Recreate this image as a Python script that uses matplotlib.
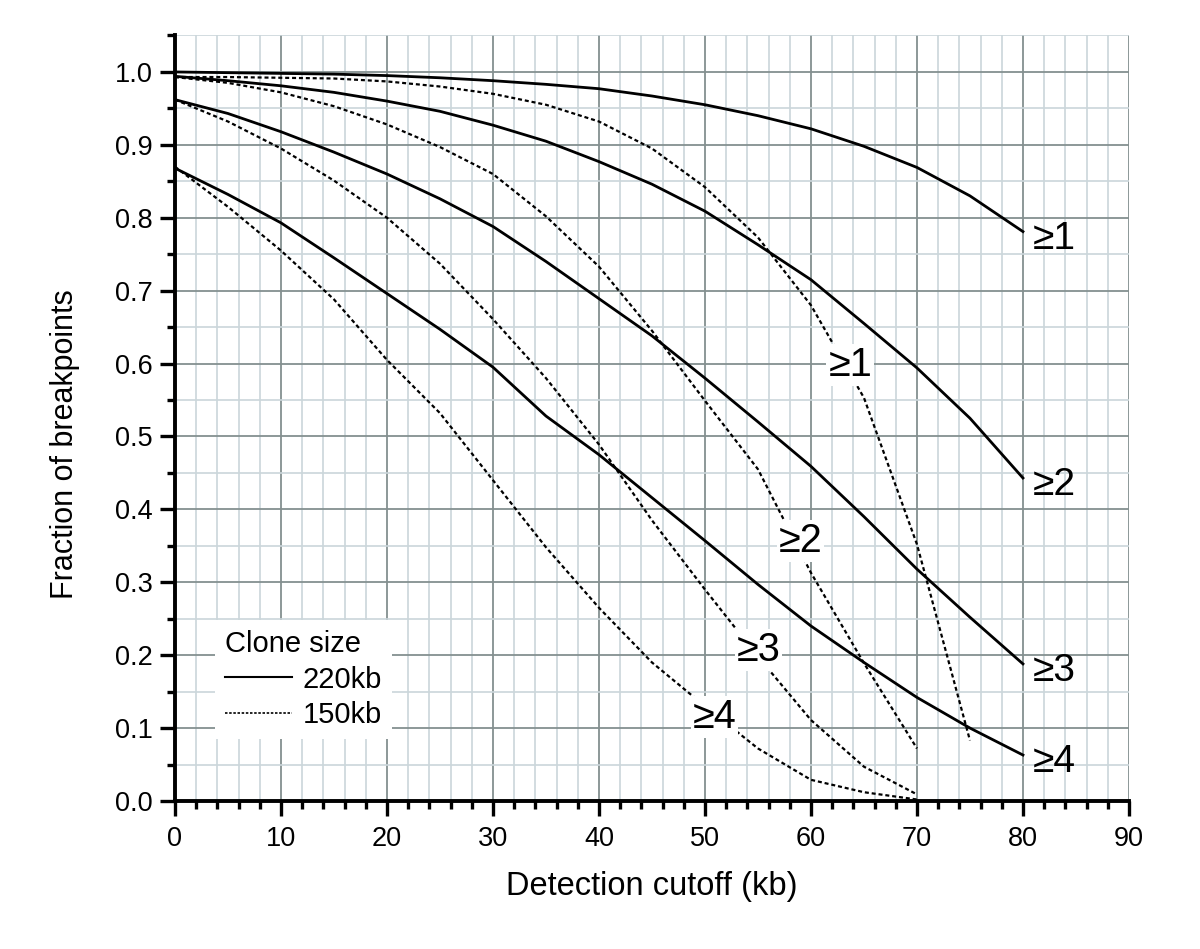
import matplotlib
matplotlib.use("Agg")
import matplotlib.pyplot as plt
from matplotlib.ticker import MultipleLocator, FormatStrFormatter
from matplotlib.lines import Line2D

plt.rcParams['font.family'] = ['Liberation Sans', 'DejaVu Sans']

# Detection cutoff (kb)
x220 = [0, 5, 10, 15, 20, 25, 30, 35, 40, 45, 50, 55, 60, 65, 70, 75, 80]
x150_1 = [0, 5, 10, 15, 20, 25, 30, 35, 40, 45, 50, 55, 60, 65, 70, 75]
x150 = [0, 5, 10, 15, 20, 25, 30, 35, 40, 45, 50, 55, 60, 65, 70]

# 220kb clone size (solid)
c220_ge1 = [1.0, 0.999, 0.998, 0.997, 0.995, 0.992, 0.988, 0.983, 0.977, 0.967, 0.955,
            0.940, 0.922, 0.898, 0.869, 0.830, 0.781]
c220_ge2 = [0.994, 0.988, 0.981, 0.972, 0.960, 0.946, 0.927, 0.905, 0.877, 0.846, 0.809,
            0.763, 0.715, 0.655, 0.594, 0.525, 0.443]
c220_ge3 = [0.962, 0.943, 0.918, 0.890, 0.860, 0.826, 0.788, 0.740, 0.689, 0.638, 0.580,
            0.520, 0.459, 0.390, 0.318, 0.252, 0.188]
c220_ge4 = [0.868, 0.832, 0.793, 0.745, 0.696, 0.647, 0.595, 0.528, 0.475, 0.416, 0.357,
            0.297, 0.240, 0.190, 0.142, 0.100, 0.063]

# 150kb clone size (dotted)
c150_ge1 = [0.993, 0.993, 0.992, 0.991, 0.987, 0.980, 0.970, 0.955, 0.932, 0.895, 0.842,
            0.773, 0.680, 0.553, 0.352, 0.083]
c150_ge2 = [0.993, 0.985, 0.972, 0.953, 0.928, 0.897, 0.860, 0.802, 0.733, 0.645, 0.549,
            0.455, 0.313, 0.189, 0.072]
c150_ge3 = [0.962, 0.932, 0.895, 0.851, 0.800, 0.737, 0.661, 0.580, 0.489, 0.385, 0.290,
            0.198, 0.111, 0.047, 0.009]
c150_ge4 = [0.870, 0.815, 0.755, 0.688, 0.605, 0.532, 0.440, 0.348, 0.265, 0.190, 0.130,
            0.072, 0.029, 0.012, 0.002]

labels_220 = ["≥1", "≥2", "≥3", "≥4"]
labels_150 = ["≥1", "≥2", "≥3", "≥4"]
legend_title = "Clone size"
legend_labels = ["220kb", "150kb"]

fig = plt.figure(figsize=(12, 9.49), dpi=100)
ax = fig.add_axes([0.1458, 0.156, 0.795, 0.8066])

major_c = '#849090'
minor_c = '#cbd6da'
ax.xaxis.set_major_locator(MultipleLocator(10))
ax.xaxis.set_minor_locator(MultipleLocator(2))
ax.yaxis.set_major_locator(MultipleLocator(0.1))
ax.yaxis.set_minor_locator(MultipleLocator(0.05))
ax.yaxis.set_major_formatter(FormatStrFormatter('%.1f'))
ax.grid(which='minor', color=minor_c, lw=1.2)
ax.grid(which='major', color=major_c, lw=1.3)
ax.set_axisbelow(True)

solid_kw = dict(color='black', lw=2.0, solid_joinstyle='miter', zorder=3)
dot_kw = dict(color='black', lw=1.6, linestyle=(0, (1.8, 1.3)), zorder=3)

ax.plot(x220, c220_ge1, **solid_kw)
ax.plot(x220, c220_ge2, **solid_kw)
ax.plot(x220, c220_ge3, **solid_kw)
ax.plot(x220, c220_ge4, **solid_kw)
ax.plot(x150_1, c150_ge1, **dot_kw)
ax.plot(x150, c150_ge2, **dot_kw)
ax.plot(x150, c150_ge3, **dot_kw)
ax.plot(x150, c150_ge4, **dot_kw)

box = dict(facecolor='white', edgecolor='none', pad=1.5)
# labels for 220kb curves at right end
for lab, yv in zip(labels_220, [c220_ge1[-1], c220_ge2[-1], c220_ge3[-1], c220_ge4[-1]]):
    ax.text(80.9, yv - 0.01, lab, fontsize=28, ha='left', va='center', zorder=5)
# labels for 150kb curves, placed on the curves
pos150 = [(63.7, 0.598), (59.0, 0.357), (55.05, 0.207), (50.9, 0.115)]
for lab, (xp, yp) in zip(labels_150, pos150):
    ax.text(xp, yp, lab, fontsize=28.5, ha='center', va='center', bbox=box, zorder=5)

ax.set_xlim(0, 90)
ax.set_ylim(0, 1.05)

for s in ['top', 'right']:
    ax.spines[s].set_visible(False)
for s in ['left', 'bottom']:
    ax.spines[s].set_linewidth(2.8)

ax.tick_params(which='major', direction='out', length=11, width=2.4, labelsize=19.5, pad=5)
ax.tick_params(which='minor', direction='out', length=6, width=2.4)
ax.tick_params(axis='x', which='major', pad=7)

ax.set_xlabel("Detection cutoff (kb)", fontsize=23.5, labelpad=14)
ax.set_ylabel("Fraction of breakpoints", fontsize=22, labelpad=25, y=0.466)

handles = [Line2D([], [], color='black', lw=1.5),
           Line2D([], [], color='black', lw=1.2, linestyle=(0, (1.5, 1.0)))]
leg = ax.legend(handles, legend_labels, title=legend_title, fontsize=21, title_fontsize=21,
                loc='upper left', bbox_to_anchor=(0.042, 0.2364), alignment='left',
                handlelength=2.3, handletextpad=0.35, labelspacing=0.25,
                borderpad=0.35, frameon=True, fancybox=False, framealpha=1,
                facecolor='white', edgecolor='none', borderaxespad=0)
leg.set_zorder(4)

fig.savefig("out.png", dpi=100)
